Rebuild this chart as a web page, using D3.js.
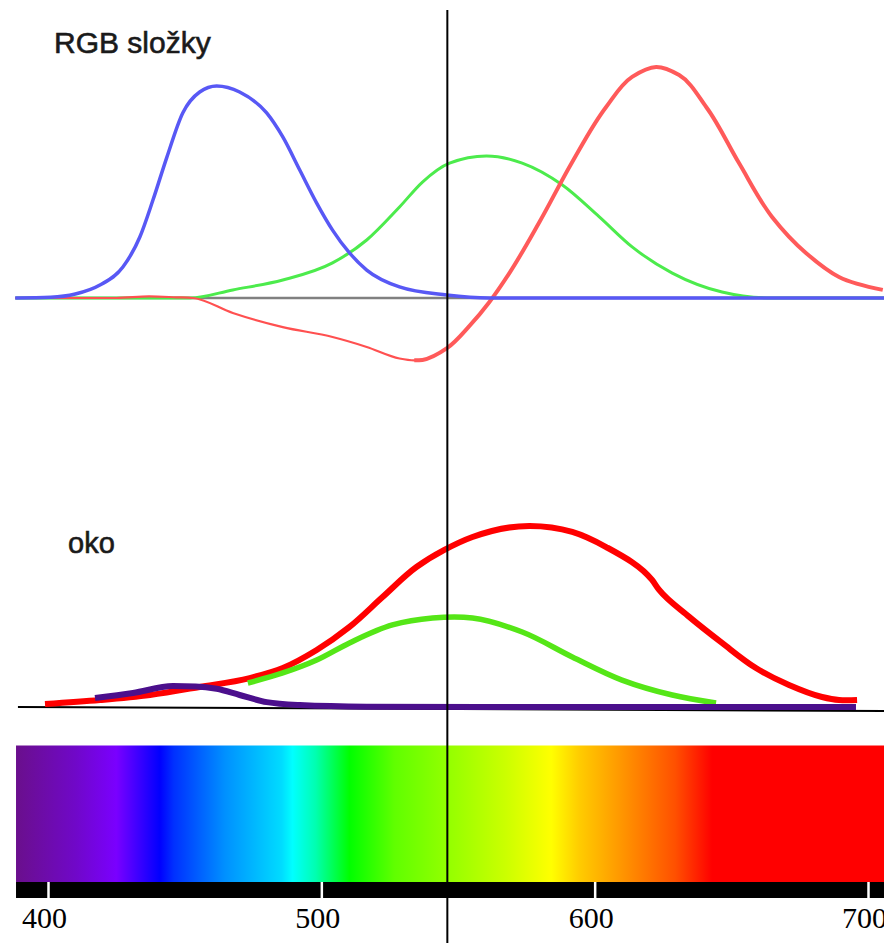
<!DOCTYPE html>
<html>
<head>
<meta charset="utf-8">
<script src="https://cdn.jsdelivr.net/npm/d3@7"></script>
<style>
  html, body { margin: 0; padding: 0; background: #fff; }
  svg { display: block; }
</style>
</head>
<body>
<svg id="chart" width="884" height="943"></svg>
<script>
// Wavelength axis (nm)
const wavelengthTicks = [400, 500, 600, 700];
const visibleRange = [388.3, 705.9];
const markerWavelength = 546.1;

// RGB colour matching components: [wavelength nm, relative value]
const rgbBlue = [[388,0],[401,0.003],[410,0.017],[419,0.056],[427.4,0.134],[433.6,0.264],[438.4,0.424],[443.5,0.61],[449.3,0.801],[455.5,0.892],[461.7,0.918],[470.1,0.892],[480,0.801],[485.9,0.697],[492.1,0.554],[498.3,0.411],[504.1,0.294],[510.3,0.195],[516.6,0.121],[528.6,0.048],[545.8,0.013],[561.5,0],[705.9,0]];
const rgbGreen = [[388,0],[452,0],[467.6,0.035],[485.9,0.078],[504.1,0.152],[516.6,0.251],[528.6,0.394],[537,0.502],[546.9,0.584],[560.4,0.615],[573.5,0.584],[588.2,0.489],[601.7,0.351],[613.7,0.221],[628.4,0.108],[646.6,0.026],[664.9,0],[705.9,0]];
const rgbRedNegative = [[388,0],[425,0],[437,0.007],[447,0.003],[453,0],[467.6,-0.065],[485.9,-0.126],[504.1,-0.169],[516.6,-0.212],[528.6,-0.262],[534,-0.27],[537,-0.268]];
const rgbRedPositive = [[534,-0.27],[537,-0.268],[546.1,-0.216],[554.2,-0.121],[561.5,-0.017],[568.8,0.108],[579.8,0.329],[591.8,0.589],[604.2,0.827],[613.7,0.957],[622.5,1.0],[630.9,0.965],[640.8,0.827],[652.8,0.584],[664.9,0.351],[677.3,0.195],[689.4,0.091],[705.4,0.035]];

// Eye cone sensitivities: [wavelength nm, relative value]
const eyeRed = [[398.9,0.016],[419,0.038],[437.3,0.066],[455.5,0.11],[473.8,0.159],[485.9,0.214],[498.3,0.313],[510.3,0.44],[522.4,0.604],[534.8,0.769],[545,0.863],[555.3,0.934],[576.1,0.995],[591.8,0.962],[604.2,0.879],[621,0.698],[623.6,0.643],[634.6,0.495],[646.6,0.352],[659,0.214],[671.1,0.121],[683.2,0.055],[689.4,0.038],[696,0.038]];
const eyeGreen = [[473.1,0.132],[485.9,0.187],[498.3,0.258],[510.3,0.352],[526,0.451],[540.7,0.489],[555.3,0.489],[573.5,0.412],[591.8,0.275],[610,0.148],[628.4,0.066],[644.4,0.022]];
const eyeViolet = [[417.2,0.049],[431.1,0.077],[445.7,0.115],[454,0.113],[461.7,0.1],[470.1,0.066],[480,0.027],[492.1,0.011],[516.6,0.002],[560,0],[695.6,0]];
const eyeBaseline = [[389,0],[705.9,-0.022]];

// Spectrum colour stops: wavelength nm and colour
const spectrumWavelengths = [388.3, 410, 425, 441, 446, 464.7, 485.5, 489.5, 497.9, 510.3, 526.8, 545, 567.7, 584.1, 594.4, 609, 629.5, 643, 705.9];
const spectrumColors = ["#6a0f8c", "#7008c8", "#7a00ff", "#0000ff", "#0030ff", "#0090ff", "#00dcff", "#00ffff", "#00ffb0", "#00ff00", "#60ff00", "#90ff00", "#ccff00", "#ffff00", "#ffcc00", "#ff9900", "#ff5000", "#ff0000", "#ff0000"];

const svg = d3.select("#chart");

const x = d3.scaleLinear().domain([400, 700]).range([48, 868]);
const yTop = d3.scaleLinear().domain([0, 1]).range([298, 67]);
const yEye = d3.scaleLinear().domain([0, 1]).range([707, 525]);

// Smooth interpolation through the sampled points; flat tails stay monotone
const smoothTop = d3.line().x(d => x(d[0])).y(d => yTop(d[1])).curve(d3.curveCatmullRom.alpha(1));
const flatTop = d3.line().x(d => x(d[0])).y(d => yTop(d[1])).curve(d3.curveMonotoneX);
const smoothEye = d3.line().x(d => x(d[0])).y(d => yEye(d[1])).curve(d3.curveCatmullRom.alpha(1));

const labelFont = "Liberation Sans, Arial, sans-serif";

// ---- RGB složky panel ----
svg.append("text")
  .attr("x", 54).attr("y", 53)
  .attr("font-family", labelFont)
  .attr("font-size", 30)
  .attr("fill", "#1a1a1a").attr("stroke", "#1a1a1a").attr("stroke-width", 0.6)
  .text("RGB složky");

svg.append("line")
  .attr("x1", x(visibleRange[0])).attr("x2", x(visibleRange[1]))
  .attr("y1", yTop(0)).attr("y2", yTop(0))
  .attr("stroke", "#808080").attr("stroke-width", 2.5);

svg.append("path").datum(rgbGreen).attr("d", flatTop)
  .attr("fill", "none").attr("stroke", "#4ceb4c").attr("stroke-width", 3);
svg.append("path").datum(rgbRedNegative).attr("d", flatTop)
  .attr("fill", "none").attr("stroke", "#ff5050").attr("stroke-width", 2.2);
svg.append("path").datum(rgbRedPositive).attr("d", smoothTop)
  .attr("fill", "none").attr("stroke", "#ff5a5a").attr("stroke-width", 4);
svg.append("path").datum(rgbBlue).attr("d", flatTop)
  .attr("fill", "none").attr("stroke", "#5858f5").attr("stroke-width", 3.5);

// ---- oko panel ----
svg.append("text")
  .attr("x", 68).attr("y", 553)
  .attr("font-family", labelFont)
  .attr("font-size", 29)
  .attr("fill", "#1a1a1a").attr("stroke", "#1a1a1a").attr("stroke-width", 0.6)
  .text("oko");

svg.append("path").datum(eyeBaseline).attr("d", d3.line().x(d => x(d[0])).y(d => yEye(d[1])))
  .attr("fill", "none").attr("stroke", "#000").attr("stroke-width", 2);

svg.append("path").datum(eyeRed).attr("d", smoothEye)
  .attr("fill", "none").attr("stroke", "#ff0000").attr("stroke-width", 6);
svg.append("path").datum(eyeGreen).attr("d", smoothEye)
  .attr("fill", "none").attr("stroke", "#55e617").attr("stroke-width", 5.5);
svg.append("path").datum(eyeViolet).attr("d", d3.line().x(d => x(d[0])).y(d => yEye(d[1])).curve(d3.curveMonotoneX))
  .attr("fill", "none").attr("stroke", "#4b0f8c").attr("stroke-width", 6);

// ---- Spectrum band ----
const defs = svg.append("defs");
const grad = defs.append("linearGradient")
  .attr("id", "spectrum")
  .attr("gradientUnits", "userSpaceOnUse")
  .attr("x1", x(visibleRange[0])).attr("x2", x(visibleRange[1]))
  .attr("y1", 0).attr("y2", 0);
const span = x(visibleRange[1]) - x(visibleRange[0]);
grad.selectAll("stop")
  .data(spectrumWavelengths.map((w, i) => [w, spectrumColors[i]]))
  .join("stop")
  .attr("offset", d => (x(d[0]) - x(visibleRange[0])) / span)
  .attr("stop-color", d => d[1]);

svg.append("rect")
  .attr("x", x(visibleRange[0])).attr("y", 745.5)
  .attr("width", span).attr("height", 136.5)
  .attr("fill", "url(#spectrum)");

// Black scale bar with white tick marks
svg.append("rect")
  .attr("x", x(visibleRange[0])).attr("y", 882)
  .attr("width", span).attr("height", 16)
  .attr("fill", "#000");

const axis = d3.axisBottom(x)
  .tickValues(wavelengthTicks)
  .tickSize(16)
  .tickPadding(9)
  .tickFormat(d3.format("d"));

const axisG = svg.append("g")
  .attr("transform", "translate(0,882)")
  .call(axis);
axisG.select(".domain").remove();
axisG.selectAll(".tick line").attr("stroke", "#fff").attr("stroke-width", 2.5);
axisG.selectAll(".tick text")
  .attr("fill", "#000")
  .attr("dx", -4)
  .attr("font-family", "Liberation Serif, 'Times New Roman', serif")
  .attr("font-size", 30);

// Marker line at the chosen wavelength
svg.append("line")
  .attr("x1", x(markerWavelength)).attr("x2", x(markerWavelength))
  .attr("y1", 10).attr("y2", 943)
  .attr("stroke", "#000").attr("stroke-width", 2);
</script>
</body>
</html>
